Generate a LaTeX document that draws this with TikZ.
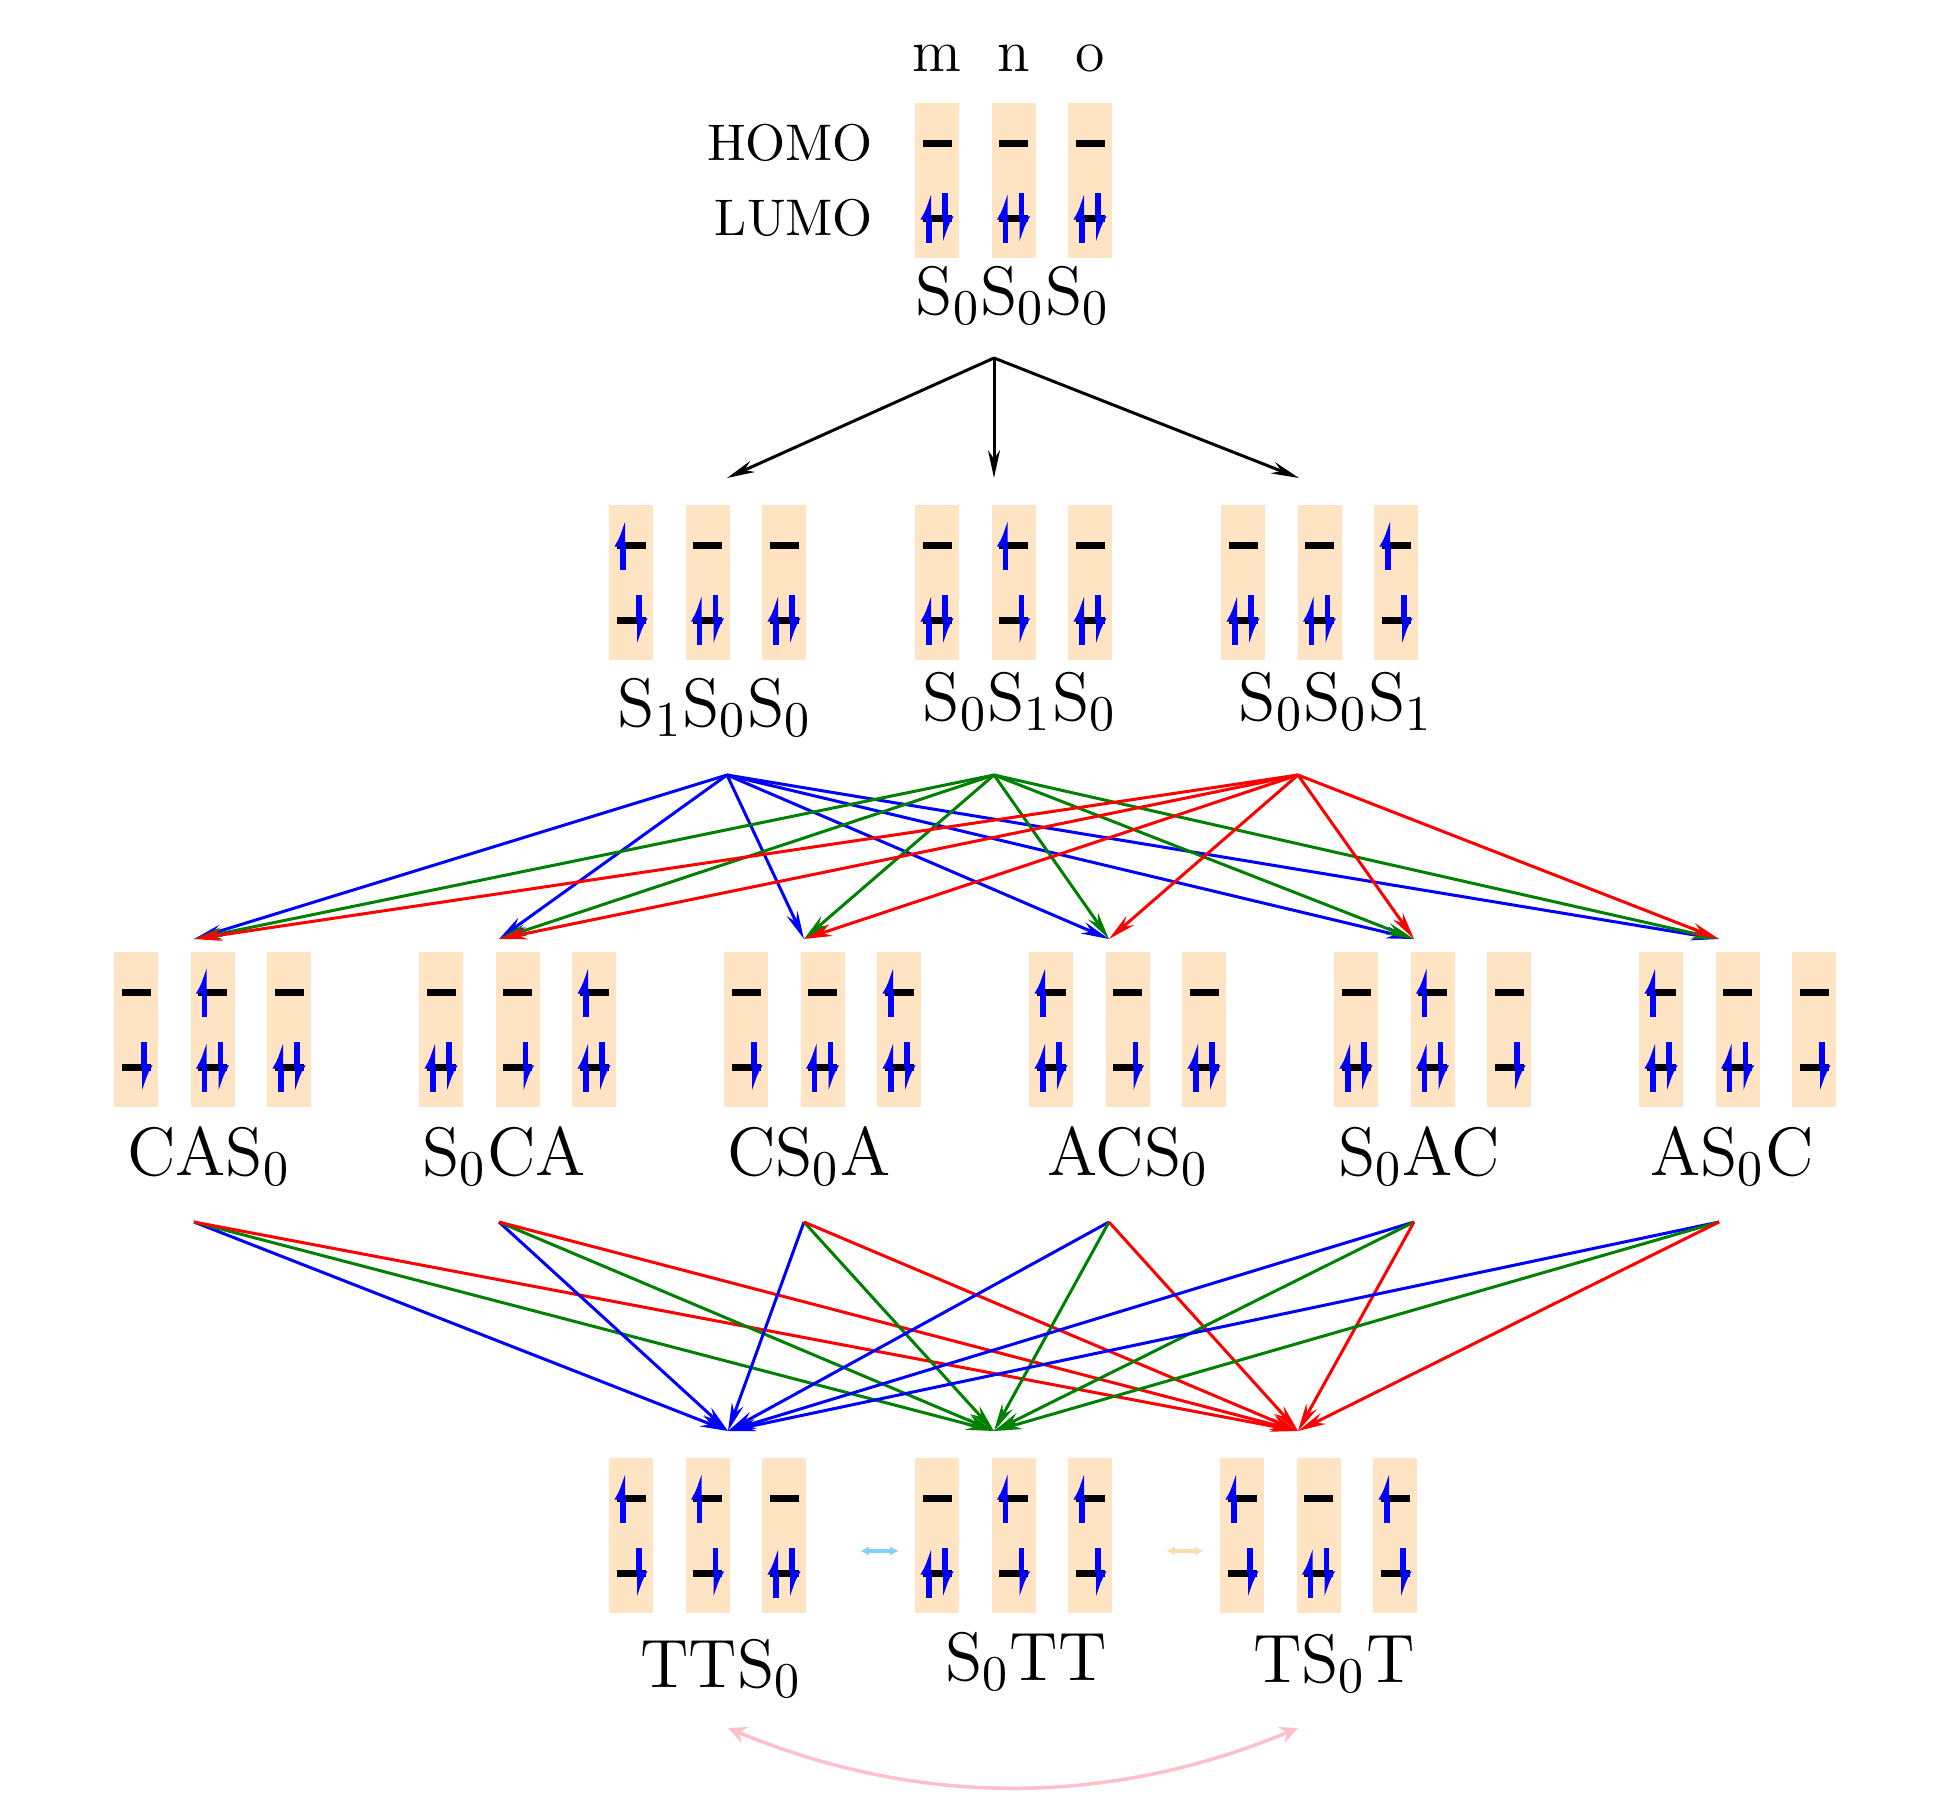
\documentclass[tikz,border=0pt]{standalone}
\usepackage{tikz}
\usetikzlibrary{arrows.meta}

\definecolor{bisque}{RGB}{255,228,196}
\definecolor{darkgreen}{RGB}{0,128,0}
\definecolor{skyarrow}{RGB}{135,206,250}
\definecolor{wheatarrow}{RGB}{245,222,179}
\definecolor{pinkarrow}{RGB}{255,192,203}

\tikzset{
  mobox/.style={fill=bisque, draw=none, inner sep=0pt, minimum width=8.8pt, minimum height=31pt},
  level/.style={line width=1.4pt},
  spin/.style={blue, line width=1.1pt, -{Latex[left,length=4pt,width=3.6pt]}},
  fan/.style={semithick, -{Stealth[length=5.6pt,width=2.4pt]}},
  swap/.style={line width=0.7pt, {Latex[length=1.8pt,width=1.9pt]}-{Latex[length=1.8pt,width=1.9pt]}},
  state/.style={font=\fontsize{13.7}{16}\selectfont, anchor=base, inner sep=0.75pt},
}

% electrons, drawn at the level \lev of the current column
\newcommand{\eup}{\draw[spin] (14,\lev+25) -- (14,\lev-25);}
\newcommand{\edn}{\draw[spin] (30,\lev-25) -- (30,\lev+25);}
\newcommand{\epair}{\eup\edn}
% one column: name, left x, top y, upper level, lower level
\newcommand{\mocol}[5]{%
  \node[mobox] (#1) at (#2+22,#3+77.5) {};
  \begin{scope}[shift={(#2,#3)}]
    \draw[level] (7.5,40) -- (36.5,40);
    \draw[level] (7.5,115) -- (36.5,115);
    \def\lev{40}#4%
    \def\lev{115}#5%
  \end{scope}}

\begin{document}
\begin{tikzpicture}[x=0.2pt,y=0.2pt,yscale=-1,xscale=1]
\useasboundingbox (0,0) rectangle (1950,1800);

%Ground state columns
\mocol{m0}{915}{103}{}{\epair}
\mocol{n0}{991.5}{103}{}{\epair}
\mocol{o0}{1068}{103}{}{\epair}

% Text Node
\draw (937,72) node [anchor=base][inner sep=0.75pt][font=\large] (lm) {m};
\draw (1013.5,72) node [anchor=base][inner sep=0.75pt][font=\large] (ln) {n};
\draw (1090,72) node [anchor=base][inner sep=0.75pt][font=\large] (lo) {o};
% Text Node
\draw (874,143) node [anchor=east][inner sep=0pt][font=\fontsize{10.3}{12}\selectfont] (homo) {HOMO};
\draw (874,218) node [anchor=east][inner sep=0pt][font=\fontsize{10.3}{12}\selectfont] (lumo) {LUMO};
% Text Node
\draw (1013,314) node [state] (sss) {S$_0$S$_0$S$_0$};

%Singlet excited columns
\mocol{a1}{609}{505}{\eup}{\edn}
\mocol{a2}{685.5}{505}{}{\epair}
\mocol{a3}{762}{505}{}{\epair}
\mocol{b1}{915}{505}{}{\epair}
\mocol{b2}{991.5}{505}{\eup}{\edn}
\mocol{b3}{1068}{505}{}{\epair}
\mocol{c1}{1221}{505}{}{\epair}
\mocol{c2}{1297.5}{505}{}{\epair}
\mocol{c3}{1374}{505}{\eup}{\edn}

% Text Node
\draw (715,726) node [state] (sa) {S$_1$S$_0$S$_0$};
\draw (1020,720) node [state] (sb) {S$_0$S$_1$S$_0$};
\draw (1336,720) node [state] (sc) {S$_0$S$_0$S$_1$};

%Charge transfer columns
\mocol{cas1}{114}{952}{}{\edn}
\mocol{cas2}{190.5}{952}{\eup}{\epair}
\mocol{cas3}{267}{952}{}{\epair}
\mocol{sca1}{419}{952}{}{\epair}
\mocol{sca2}{495.5}{952}{}{\edn}
\mocol{sca3}{572}{952}{\eup}{\epair}
\mocol{csa1}{724}{952}{}{\edn}
\mocol{csa2}{800.5}{952}{}{\epair}
\mocol{csa3}{877}{952}{\eup}{\epair}
\mocol{acs1}{1029}{952}{\eup}{\epair}
\mocol{acs2}{1105.5}{952}{}{\edn}
\mocol{acs3}{1182}{952}{}{\epair}
\mocol{sac1}{1334}{952}{}{\epair}
\mocol{sac2}{1410.5}{952}{\eup}{\epair}
\mocol{sac3}{1487}{952}{}{\edn}
\mocol{asc1}{1639}{952}{\eup}{\epair}
\mocol{asc2}{1715.5}{952}{}{\epair}
\mocol{asc3}{1792}{952}{}{\edn}

% Text Node
\draw (209,1175) node [state] (lcas) {CAS$_0$};
\draw (504,1175) node [state] (lsca) {S$_0$CA};
\draw (809,1175) node [state] (lcsa) {CS$_0$A};
\draw (1128,1175) node [state] (lacs) {ACS$_0$};
\draw (1419,1175) node [state] (lsac) {S$_0$AC};
\draw (1732,1175) node [state] (lasc) {AS$_0$C};

%Triplet pair columns
\mocol{tts1}{609}{1458}{\eup}{\edn}
\mocol{tts2}{685.5}{1458}{\eup}{\edn}
\mocol{tts3}{762}{1458}{}{\epair}
\mocol{stt1}{915}{1458}{}{\epair}
\mocol{stt2}{991.5}{1458}{\eup}{\edn}
\mocol{stt3}{1068}{1458}{\eup}{\edn}
\mocol{tst1}{1220}{1458}{\eup}{\edn}
\mocol{tst2}{1296.5}{1458}{}{\epair}
\mocol{tst3}{1373}{1458}{\eup}{\edn}

% Text Node
\draw (721,1687) node [state] (ltts) {TTS$_0$};
\draw (1026,1680) node [state] (lstt) {S$_0$TT};
\draw (1334,1682) node [state] (ltst) {TS$_0$T};

%Arrow ends
\coordinate (gsout) at (994,358);
\coordinate (s1in1) at (727,478);
\coordinate (s1in2) at (994,478);
\coordinate (s1in3) at (1299,478);
\coordinate (s1out1) at (727,775);
\coordinate (s1out2) at (994,775);
\coordinate (s1out3) at (1298,775);
\coordinate (ctin1) at (194,939);
\coordinate (ctin2) at (499,939);
\coordinate (ctin3) at (804,939);
\coordinate (ctin4) at (1109,939);
\coordinate (ctin5) at (1414,939);
\coordinate (ctin6) at (1719,939);
\coordinate (ctout1) at (194,1222);
\coordinate (ctout2) at (499,1222);
\coordinate (ctout3) at (804,1222);
\coordinate (ctout4) at (1109,1222);
\coordinate (ctout5) at (1414,1222);
\coordinate (ctout6) at (1719,1222);
\coordinate (ttin1) at (728,1431);
\coordinate (ttin2) at (994,1431);
\coordinate (ttin3) at (1298,1431);

%Excitation
\path [fan] (gsout) edge (s1in1) edge (s1in2) edge (s1in3);

%Charge transfer
\path [fan, blue] (s1out1) edge (ctin1) edge (ctin2) edge (ctin3) edge (ctin4) edge (ctin5) edge (ctin6);
\path [fan, darkgreen] (s1out2) edge (ctin1) edge (ctin2) edge (ctin3) edge (ctin4) edge (ctin5) edge (ctin6);
\path [fan, red] (s1out3) edge (ctin1) edge (ctin2) edge (ctin3) edge (ctin4) edge (ctin5) edge (ctin6);

%Triplet pair formation
\path [fan] (ctout1) edge [blue] (ttin1) edge [darkgreen] (ttin2) edge [red] (ttin3);
\path [fan] (ctout2) edge [blue] (ttin1) edge [darkgreen] (ttin2) edge [red] (ttin3);
\path [fan] (ctout3) edge [blue] (ttin1) edge [darkgreen] (ttin2) edge [red] (ttin3);
\path [fan] (ctout4) edge [blue] (ttin1) edge [darkgreen] (ttin2) edge [red] (ttin3);
\path [fan] (ctout5) edge [blue] (ttin1) edge [darkgreen] (ttin2) edge [red] (ttin3);
\path [fan] (ctout6) edge [blue] (ttin1) edge [darkgreen] (ttin2) edge [red] (ttin3);

%Triplet pair hopping
\coordinate (hop1a) at (860,1551);
\coordinate (hop1b) at (899,1551);
\coordinate (hop2a) at (1166,1551);
\coordinate (hop2b) at (1204,1551);
\coordinate (hop3a) at (728,1728);
\coordinate (hop3b) at (1298,1728);
\draw [swap, skyarrow] (hop1a) -- (hop1b);
\draw [swap, wheatarrow] (hop2a) -- (hop2b);
\draw [pinkarrow, line width=0.7pt, {Stealth[length=3.6pt,width=3.4pt]}-{Stealth[length=3.6pt,width=3.4pt]}] (hop3a) .. controls +(190,79) and +(-190,79) .. (hop3b);

\end{tikzpicture}
\end{document}
